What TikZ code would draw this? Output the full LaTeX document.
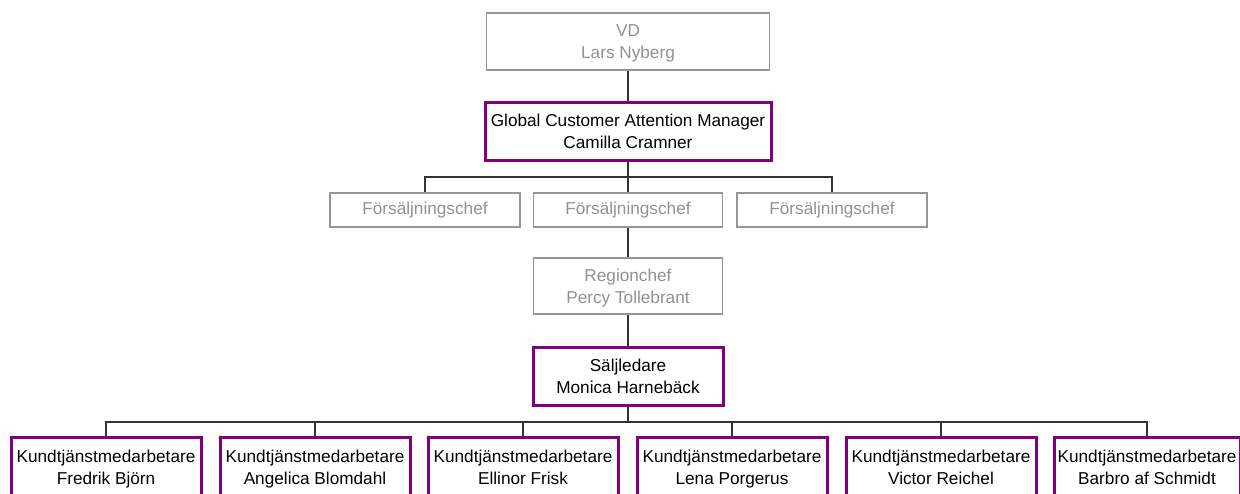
\documentclass[tikz,border=0pt]{standalone}
\usepackage{fontspec}
\setmainfont{Liberation Sans}
\definecolor{vpurple}{RGB}{128,0,128}
\definecolor{ggray}{RGB}{150,150,150}
\definecolor{gtext}{RGB}{145,145,145}
\newcommand{\twoln}[2]{\rule{0pt}{18pt}#1\\#2\rule[-5.5pt]{0pt}{5.5pt}}
\begin{document}
\begin{tikzpicture}[x=1pt,y=-1pt,
  box/.style={rectangle,inner sep=0pt,align=center,font=\fontsize{17.2}{22}\selectfont},
  graybox/.style={box,draw=ggray,line width=1.4pt,text=gtext},
  purplebox/.style={box,draw=vpurple,line width=3pt,text=black},
  conn/.style={draw=black!80,line width=1.2pt}]
\useasboundingbox (0,0) rectangle (1240,493);
% top
\node[graybox,minimum width=283,minimum height=57] (vd) at (628,41.5) {\twoln{VD}{Lars Nyberg}};
\node[purplebox,minimum width=286,minimum height=58] (gcam) at (628,131) {\twoln{Global Customer Attention Manager}{Camilla Cramner}};
\node[graybox,minimum width=190,minimum height=34] (f1) at (425,210) {Försäljningschef};
\node[graybox,minimum width=189,minimum height=34] (f2) at (628,210) {Försäljningschef};
\node[graybox,minimum width=190,minimum height=34] (f3) at (832,210) {Försäljningschef};
\node[graybox,minimum width=189,minimum height=56] (rc) at (628,286) {\twoln{Regionchef}{Percy Tollebrant}};
\node[purplebox,minimum width=190,minimum height=58] (sl) at (628,376) {\twoln{Säljledare}{Monica Harnebäck}};
% bottom row
\node[purplebox,minimum width=190,minimum height=60] (k1) at (106,467) {\twoln{Kundtjänstmedarbetare}{Fredrik Björn}};
\node[purplebox,minimum width=190,minimum height=60] (k2) at (315,467) {\twoln{Kundtjänstmedarbetare}{Angelica Blomdahl}};
\node[purplebox,minimum width=190,minimum height=60] (k3) at (523,467) {\twoln{Kundtjänstmedarbetare}{Ellinor Frisk}};
\node[purplebox,minimum width=190,minimum height=60] (k4) at (732,467) {\twoln{Kundtjänstmedarbetare}{Lena Porgerus}};
\node[purplebox,minimum width=190,minimum height=60] (k5) at (941,467) {\twoln{Kundtjänstmedarbetare}{Victor Reichel}};
\node[purplebox,minimum width=186,minimum height=60] (k6) at (1147,467) {\twoln{Kundtjänstmedarbetare}{Barbro af Schmidt}};
% connectors
\draw[conn] (vd.south) -- (gcam.north);
\coordinate (bus1) at (628,177);
\draw[conn] (gcam.south) -- (bus1);
\draw[conn] (f1.north) -- (f1.north |- bus1) -- (f3.north |- bus1) -- (f3.north);
\draw[conn] (bus1) -- (f2.north);
\draw[conn] (f2.south) -- (rc.north);
\draw[conn] (rc.south) -- (sl.north);
\coordinate (bus2) at (628,422);
\draw[conn] (sl.south) -- (bus2);
\draw[conn] (k1.north) -- (k1.north |- bus2) -- (k6.north |- bus2) -- (k6.north);
\foreach \k in {k2,k3,k4,k5}{\draw[conn] (\k.north |- bus2) -- (\k.north);}
\end{tikzpicture}
\end{document}
